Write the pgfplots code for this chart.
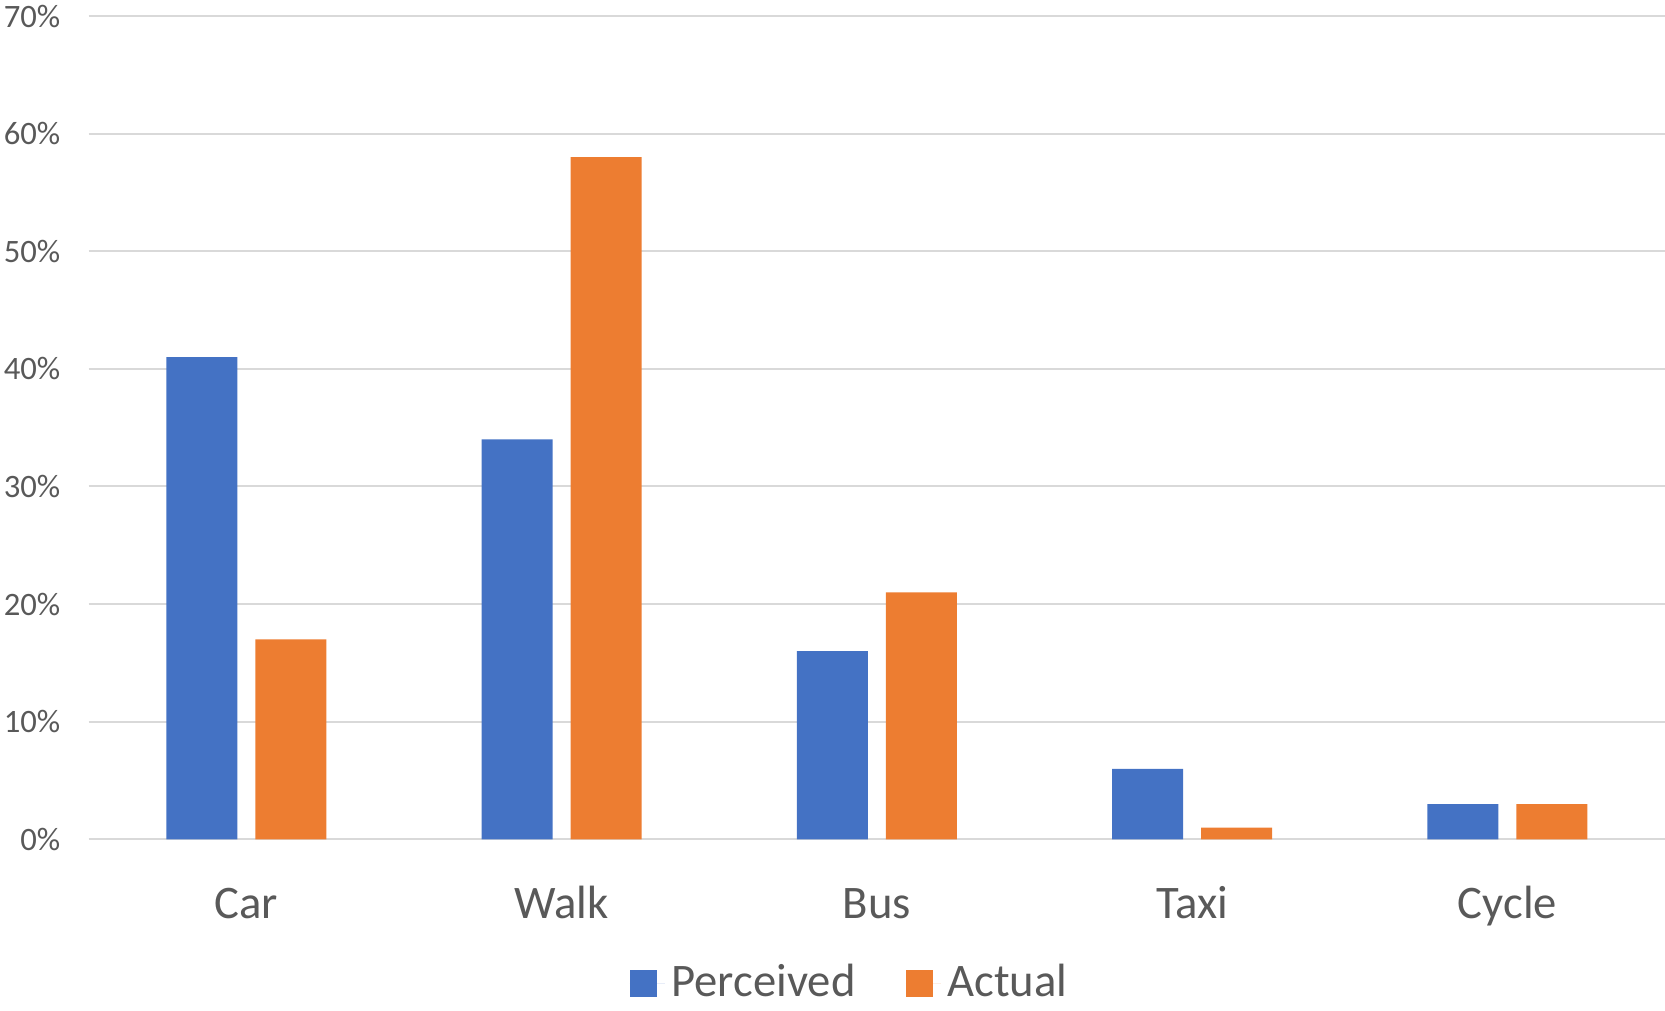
\documentclass[border=0pt]{standalone}
\usepackage{fontspec}
\setmainfont{Carlito}
\usepackage{pgfplots}
\pgfplotsset{compat=1.18}
\definecolor{xlblue}{HTML}{4472C4}
\definecolor{xlorange}{HTML}{ED7D31}
\definecolor{xlgrid}{HTML}{D9D9D9}
\definecolor{xltext}{HTML}{595959}

\begin{document}
\begin{tikzpicture}
\path[use as bounding box] (-26.6pt,-51.2pt) rectangle (472.9pt,251.8pt);
\begin{axis}[
    scale only axis,
    width=472.9pt, height=247pt,
    ybar=5.4pt, bar width=21.3pt,
    xmin=-0.5, xmax=4.5, ymin=0, ymax=70,
    xtick={0,1,2,3,4},
    xticklabels={Car,Walk,Bus,Taxi,Cycle},
    ytick={0,10,...,70},
    yticklabel={\pgfmathprintnumber{\tick}\%},
    /pgf/number format/assume math mode=true,
    ymajorgrids,
    grid style={xlgrid, line width=0.6pt},
    axis line style={draw=none},
    major tick length=0pt,
    every tick label/.append style={text=xltext},
    yticklabel style={font=\fontsize{9.8}{11}\selectfont, xshift=-5pt},
    xticklabel style={font=\fontsize{14}{16}\selectfont, anchor=base, yshift=-23.7pt},
    legend style={at={(0.4842,-0.1745)}, anchor=center, draw=none, fill=none,
        legend columns=-1, font=\fontsize{14}{16}\selectfont, text=xltext,
        /tikz/every even column/.append style={column sep=13.1pt}},
    legend image code/.code={%
        \path (0pt,0pt) -- (10.5pt,0pt);
        \fill[#1] (0pt,-4.2pt) rectangle (8.1pt,3.9pt);},
]
\addplot[fill=xlblue, draw=none] coordinates {(0,41) (1,34) (2,16) (3,6) (4,3)};
\addlegendentry{Perceived}
\addplot[fill=xlorange, draw=none] coordinates {(0,17) (1,58) (2,21) (3,1) (4,3)};
\addlegendentry{Actual}
\end{axis}
\end{tikzpicture}
\end{document}
